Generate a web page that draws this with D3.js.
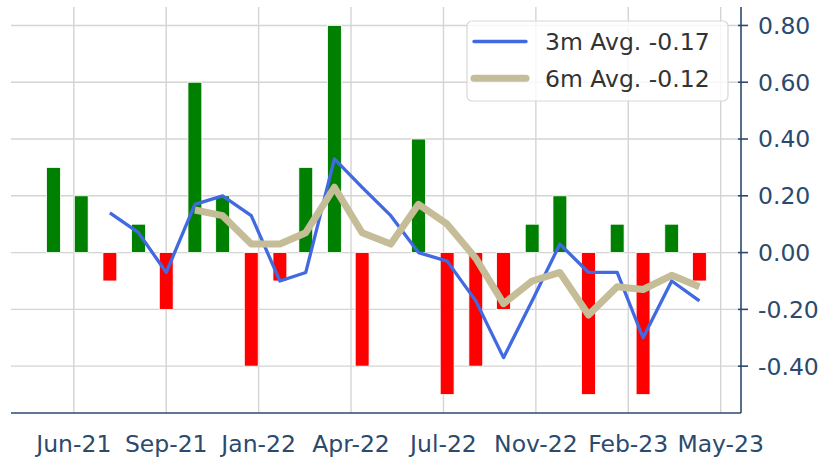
<!DOCTYPE html>
<html>
<head>
<meta charset="utf-8">
<script src="https://cdn.jsdelivr.net/npm/d3@7"></script>
<style>
  body { margin: 0; background: #fff; }
  svg { display: block; font-family: "DejaVu Sans", sans-serif; }
</style>
</head>
<body>
<svg width="825" height="462"></svg>
<script>
// monthly values, May-21 .. Apr-23
const months = ["2021-05", "2021-06", "2021-07", "2021-08", "2021-09", "2021-10",
  "2021-11", "2021-12", "2022-01", "2022-02", "2022-03", "2022-04",
  "2022-05", "2022-06", "2022-07", "2022-08", "2022-09", "2022-10",
  "2022-11", "2022-12", "2023-01", "2023-02", "2023-03", "2023-04"];
const values = [0.30, 0.20, -0.10, 0.10, -0.20, 0.60, 0.20, -0.40, -0.10, 0.30, 0.80, -0.40,
  0.00, 0.40, -0.50, -0.40, -0.20, 0.10, 0.20, -0.50, 0.10, -0.50, 0.10, -0.10];
// 3m avg begins at the 3rd month, 6m avg at the 6th
const avg3 = [null, null, 0.14, 0.07, -0.07, 0.17, 0.20, 0.13, -0.10, -0.07, 0.33, 0.23,
  0.13, 0.00, -0.03, -0.17, -0.37, -0.17, 0.03, -0.07, -0.07, -0.30, -0.10, -0.17];
const avg6 = [null, null, null, null, null, 0.15, 0.13, 0.03, 0.03, 0.07, 0.23, 0.07,
  0.03, 0.17, 0.10, -0.02, -0.18, -0.10, -0.07, -0.22, -0.12, -0.13, -0.08, -0.12];
const legendLabels = ["3m Avg. -0.17", "6m Avg. -0.12"];
const xTicks = ["2021-06-22", "2021-09-30", "2022-01-08", "2022-04-18",
  "2022-07-27", "2022-11-04", "2023-02-12", "2023-05-23"];
const yTicks = [-0.4, -0.2, 0, 0.2, 0.4, 0.6, 0.8];

const navy = "#2b4a6d";
const plot = { left: 11, right: 741, top: 7, bottom: 413 };

const parse = d3.utcParse("%Y-%m-%d");
const monthEnd = m => d3.utcDay.offset(d3.utcMonth.offset(d3.utcParse("%Y-%m")(m), 1), -1);
const data = months.map((m, i) => ({ date: monthEnd(m), v: values[i], a3: avg3[i], a6: avg6[i] }));

const x = d3.scaleUtc()
  .domain([parse("2021-04-15"), parse("2023-06-14")])
  .range([plot.left, plot.right]);
const y = d3.scaleLinear().domain([-0.565, 0.865]).range([plot.bottom, plot.top]);

const svg = d3.select("svg");

// grid
const grid = svg.append("g").attr("stroke", "#d4d4d4").attr("stroke-width", 1.4);
grid.selectAll(".vg").data(xTicks.map(parse)).enter().append("line")
  .attr("x1", d => x(d)).attr("x2", d => x(d)).attr("y1", plot.top).attr("y2", plot.bottom);
grid.selectAll(".hg").data(yTicks).enter().append("line")
  .attr("x1", plot.left).attr("x2", plot.right).attr("y1", d => y(d)).attr("y2", d => y(d));

// bars
const halfW = 7.5; // days
const bx0 = d => x(d3.utcHour.offset(d.date, -halfW * 24));
const bx1 = d => x(d3.utcHour.offset(d.date, halfW * 24));
svg.append("g").selectAll("rect").data(data).enter().append("rect")
  .attr("x", bx0)
  .attr("width", d => bx1(d) - bx0(d))
  .attr("y", d => y(Math.max(0, d.v)))
  .attr("height", d => Math.abs(y(d.v) - y(0)))
  .attr("fill", d => d.v >= 0 ? "#008000" : "#ff0000")
  .attr("stroke", "#fff").attr("stroke-width", 0.8);

// lines
const line = key => d3.line()
  .defined(d => d[key] != null)
  .x(d => x(d.date)).y(d => y(d[key]));
svg.append("path").datum(data)
  .attr("d", line("a3"))
  .attr("fill", "none").attr("stroke", "#4169e1").attr("stroke-width", 3.3)
  .attr("stroke-linejoin", "round");
svg.append("path").datum(data)
  .attr("d", line("a6"))
  .attr("fill", "none").attr("stroke", "#c5bd97").attr("stroke-width", 7)
  .attr("stroke-linejoin", "round");

// spines
svg.append("line").attr("x1", plot.left).attr("x2", plot.right)
  .attr("y1", plot.bottom).attr("y2", plot.bottom)
  .attr("stroke", navy).attr("stroke-width", 1.6);
svg.append("line").attr("x1", plot.right).attr("x2", plot.right)
  .attr("y1", plot.top).attr("y2", plot.bottom)
  .attr("stroke", navy).attr("stroke-width", 1.6);

// right axis
const yAxis = svg.append("g");
yAxis.selectAll("line").data(yTicks).enter().append("line")
  .attr("x1", plot.right - 3).attr("x2", plot.right + 7)
  .attr("y1", d => y(d)).attr("y2", d => y(d))
  .attr("stroke", navy).attr("stroke-width", 1.6);
yAxis.selectAll("text").data(yTicks).enter().append("text")
  .attr("x", 758).attr("y", d => y(d)).attr("dy", "0.36em")
  .attr("fill", navy).attr("font-size", 23.5)
  .text(d => d.toFixed(2));

// bottom labels
svg.append("g").selectAll("text").data(xTicks.map(parse)).enter().append("text")
  .attr("x", d => x(d)).attr("y", 451.5)
  .attr("text-anchor", "middle")
  .attr("fill", navy).attr("font-size", 23.5)
  .text(d3.utcFormat("%b-%y"));

// legend
const lg = svg.append("g");
lg.append("rect").attr("x", 467).attr("y", 21).attr("width", 261).attr("height", 80)
  .attr("rx", 5).attr("fill", "#fff").attr("fill-opacity", 0.8)
  .attr("stroke", "#d8d8d8").attr("stroke-width", 1.2);
const legendItems = [
  { label: legendLabels[0], color: "#4169e1", w: 3.3 },
  { label: legendLabels[1], color: "#c5bd97", w: 7 }
];
legendItems.forEach((it, i) => {
  const ly = 41.5 + i * 36.8;
  lg.append("line").attr("x1", 474).attr("x2", 526).attr("y1", ly).attr("y2", ly)
    .attr("stroke", it.color).attr("stroke-width", it.w).attr("stroke-linecap", "round");
  lg.append("text").attr("x", 545).attr("y", ly).attr("dy", "0.36em")
    .attr("fill", "#333").attr("font-size", 23.5).text(it.label);
});
</script>
</body>
</html>
